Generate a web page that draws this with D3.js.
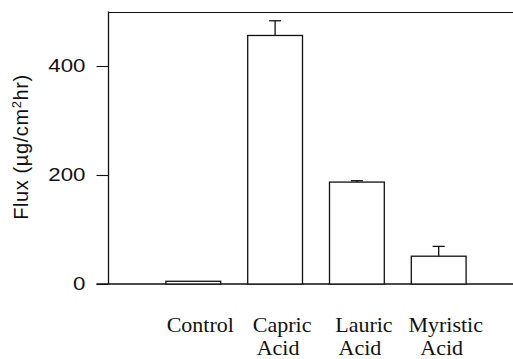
<!DOCTYPE html>
<html>
<head>
<meta charset="utf-8">
<script src="https://cdn.jsdelivr.net/npm/d3@7"></script>
<style>
  html, body { margin: 0; padding: 0; background: #fff; }
  svg { display: block; }
</style>
</head>
<body>
<svg id="chart" width="513" height="359"></svg>
<script>
const categories = ["Control", "Capric", "Lauric", "Myristic"];
const labelLine2 = ["", "Acid", "Acid", "Acid"];
const fluxValues = [5, 456, 187, 51];
const fluxErrors = [0, 27, 2.5, 18];
const yTicks = [0, 200, 400];
const yLabel = "Flux (µg/cm²hr)";

const svg = d3.select("#chart");
const W = 513;

const y = d3.scaleLinear().domain([0, 500]).range([284, 11.5]);
const x = d3.scaleBand().domain(categories).range([125, 507])
  .paddingInner(0.33).paddingOuter(0.5);

const axisX = 108.5;
const ink = "#111";

// top frame line
svg.append("line")
  .attr("x1", axisX).attr("x2", W)
  .attr("y1", Math.round(y(500)) + 0.5).attr("y2", Math.round(y(500)) + 0.5)
  .attr("stroke", ink).attr("stroke-width", 1.2);

// left axis
const yAxis = d3.axisLeft(y).tickValues(yTicks).tickSize(12).tickPadding(11)
  .tickFormat(d3.format("d"));
const gy = svg.append("g").attr("transform", `translate(${axisX},0)`).call(yAxis);
gy.select(".domain").remove();
gy.selectAll(".tick line").attr("stroke", ink).attr("stroke-width", 1.1);
gy.selectAll(".tick text")
  .attr("font-family", "'Liberation Sans', Arial, sans-serif")
  .attr("font-size", 17.5)
  .attr("textLength", d => String(d).length * 12.4)
  .attr("lengthAdjust", "spacingAndGlyphs")
  .attr("fill", ink).attr("dy", "0.3em");
svg.append("line")
  .attr("x1", axisX).attr("x2", axisX)
  .attr("y1", y(500)).attr("y2", y(0))
  .attr("stroke", ink).attr("stroke-width", 1.3);

// baseline
svg.append("line")
  .attr("x1", axisX - 12).attr("x2", W)
  .attr("y1", y(0)).attr("y2", y(0))
  .attr("stroke", ink).attr("stroke-width", 1.3);

// bars
svg.append("g").selectAll("rect").data(categories).join("rect")
  .attr("x", d => x(d))
  .attr("y", (d, i) => y(fluxValues[i]))
  .attr("width", x.bandwidth())
  .attr("height", (d, i) => y(0) - y(fluxValues[i]))
  .attr("fill", "#fff").attr("stroke", ink).attr("stroke-width", 1.3);

// error bars
const eg = svg.append("g");
categories.forEach((c, i) => {
  if (!fluxErrors[i]) return;
  const cx = x(c) + x.bandwidth() / 2;
  eg.append("line").attr("x1", cx).attr("x2", cx)
    .attr("y1", y(fluxValues[i])).attr("y2", y(fluxValues[i] + fluxErrors[i]))
    .attr("stroke", ink).attr("stroke-width", 1.3);
  eg.append("line").attr("x1", cx - 6).attr("x2", cx + 6)
    .attr("y1", y(fluxValues[i] + fluxErrors[i])).attr("y2", y(fluxValues[i] + fluxErrors[i]))
    .attr("stroke", ink).attr("stroke-width", 1.3);
});

// x labels
const lg = svg.append("g")
  .attr("font-family", "'Liberation Serif', 'Times New Roman', serif")
  .attr("font-size", 22).attr("fill", ink).attr("text-anchor", "middle");
categories.forEach((c, i) => {
  const cx = x(c) + x.bandwidth() / 2;
  lg.append("text").attr("x", cx + 7).attr("y", 332).text(c);
  if (labelLine2[i]) lg.append("text").attr("x", cx + 3).attr("y", 355).text(labelLine2[i]);
});

// y label
svg.append("text")
  .attr("transform", `translate(28,147) rotate(-90)`)
  .attr("text-anchor", "middle")
  .attr("font-family", "'Liberation Sans', Arial, sans-serif")
  .attr("font-size", 20).attr("letter-spacing", 0.6).attr("fill", ink)
  .html('Flux (µg/cm<tspan dy="-7" font-size="13">2</tspan><tspan dy="7">hr)</tspan>');
</script>
</body>
</html>
